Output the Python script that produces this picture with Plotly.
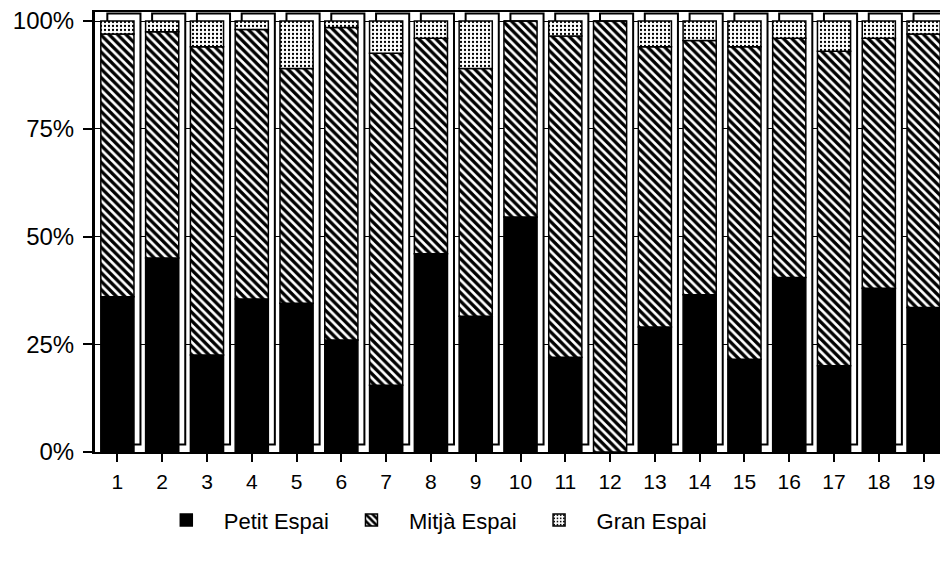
import plotly.graph_objects as go

categories = [str(i) for i in range(1, 20)]
petit = [36, 45, 22.5, 35.5, 34.5, 26, 15.5, 46, 31.5, 54.5, 22, 0, 29, 36.5, 21.5, 40.5, 20, 38, 33.5]
mitja_top = [97, 97.5, 94, 98, 89, 98.5, 92.5, 96, 89, 100, 96.5, 100, 94, 95.5, 94, 96, 93, 96, 97]
mitja = [round(t - p, 2) for t, p in zip(mitja_top, petit)]
gran = [round(100 - t, 2) for t in mitja_top]
y_ticks = [0, 25, 50, 75, 100]
y_ticktext = ["0%", "25%", "50%", "75%", "100%"]
series_names = ["Petit Espai", "Mitjà Espai", "Gran Espai"]

# page body has an 8px default margin: compensate
W, H = 940, 553
ML, MR, MT, MB = 87, 2, 4, 109
pw = W - ML - MR
ph = H - MT - MB
n = len(categories)
px_per_cat = pw / n
px_per_pct = 431 / 100.0
ymax = ph / px_per_pct

xs = list(range(1, n + 1))
bw = 0.74
dx = 6.5 / px_per_cat
dy = 7.5 / px_per_pct

totals = [p + m + g for p, m, g in zip(petit, mitja, gran)]
base_m = petit
base_g = [p + m for p, m in zip(petit, mitja)]

fig = go.Figure()
# depth (3D side/top panels)
fig.add_trace(go.Bar(
    x=xs, y=totals, base=[dy] * n, width=bw, offset=-bw / 2 + dx,
    marker=dict(color="white", line=dict(color="black", width=2)),
    showlegend=False, hoverinfo="skip"))
fig.add_trace(go.Bar(
    x=xs, y=petit, base=[0] * n, width=bw, name=series_names[0],
    marker=dict(color="black", line=dict(color="black", width=1.5))))
fig.add_trace(go.Bar(
    x=xs, y=mitja, base=base_m, width=bw, name=series_names[1],
    marker=dict(color="white", line=dict(color="black", width=1.5),
                pattern=dict(shape="\\", fgcolor="black", bgcolor="white",
                             size=6, solidity=0.55, fillmode="replace"))))
fig.add_trace(go.Bar(
    x=xs, y=gran, base=base_g, width=bw, name=series_names[2],
    marker=dict(color="white", line=dict(color="black", width=1.5),
                pattern=dict(shape=".", fgcolor="black", bgcolor="white",
                             size=4, solidity=0.25, fillmode="replace"))))

font = "Liberation Sans, Arial, sans-serif"
fig.update_layout(
    width=W, height=H,
    margin=dict(l=ML, r=MR, t=MT, b=MB, autoexpand=False),
    barmode="overlay",
    paper_bgcolor="white", plot_bgcolor="white",
    font=dict(family=font, size=22, color="black"),
    xaxis=dict(range=[0.5, n + 0.5], tickvals=xs, ticktext=categories,
               ticks="outside", ticklen=8, tickwidth=2, tickcolor="black",
               showline=True, linecolor="black", linewidth=2, mirror=True,
               showgrid=False, zeroline=False, tickfont=dict(size=21),
               automargin=False, ticklabelstandoff=2, ticklabeloverflow="allow"),
    yaxis=dict(range=[0, ymax], tickvals=y_ticks, ticktext=y_ticktext,
               ticks="outside", ticklen=9, tickwidth=2, tickcolor="black",
               showline=True, linecolor="black", linewidth=3,
               showgrid=True, gridcolor="black", gridwidth=1,
               zeroline=False, tickfont=dict(size=24), automargin=False,
               ticklabelstandoff=4, ticklabeloverflow="allow"),
    legend=dict(orientation="h", x=0.394, xanchor="center", y=-0.155, yanchor="middle",
                font=dict(size=22), itemwidth=65, traceorder="normal"),
    hovermode=False,
)

fig.write_html("out.html")
